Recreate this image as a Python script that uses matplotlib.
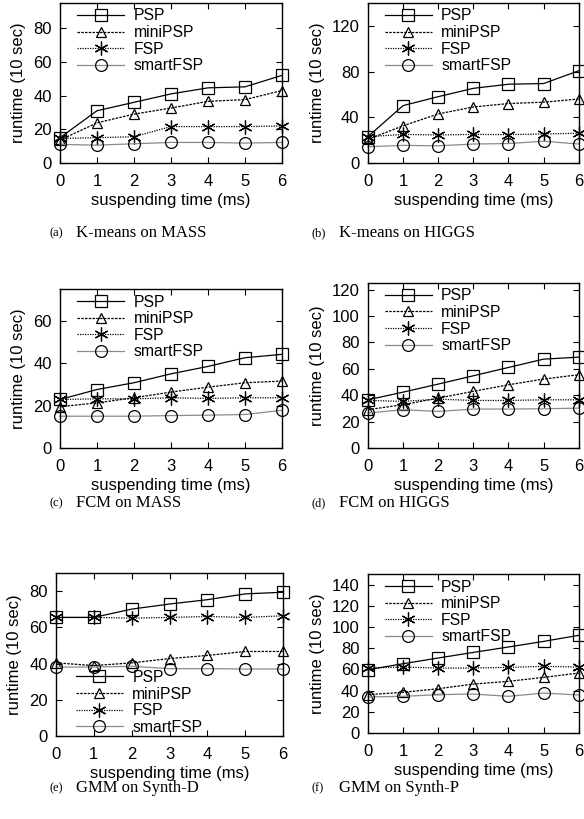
import matplotlib
matplotlib.use('Agg')
import matplotlib.pyplot as plt
import numpy as np

plt.rcParams['font.family'] = ['Liberation Sans', 'DejaVu Sans']

x = [0, 1, 2, 3, 4, 5, 6]
names = ['PSP', 'miniPSP', 'FSP', 'smartFSP']

# runtime values, order: PSP, miniPSP, FSP, smartFSP
kmeans_mass = [
    [15, 31, 36, 41, 44.6, 45.2, 52],
    [13.6, 23.8, 29, 32.6, 36.6, 37.6, 43],
    [14.6, 15, 15.6, 21.6, 21.6, 21.6, 22],
    [11, 10.6, 11.4, 12.2, 12.2, 11.8, 12.2],
]
kmeans_higgs = [
    [23, 50.2, 58, 65.3, 68.9, 69.5, 80.7],
    [20.7, 32.5, 42.9, 49, 52, 53.2, 56],
    [23, 25, 24.5, 25, 24.8, 25.4, 26],
    [14.2, 15.4, 15, 16.6, 17, 19, 16.6],
]
fcm_mass = [
    [22.9, 27.6, 30.8, 35, 38.5, 42.6, 44.2],
    [19.5, 21.3, 23.7, 26.4, 28.7, 30.8, 31.6],
    [22.9, 23.2, 23.2, 23.7, 23.4, 23.7, 23.7],
    [15, 15, 15, 15.3, 15.5, 15.8, 17.8],
]
fcm_higgs = [
    [36.5, 42.3, 48.4, 54.7, 61, 67.3, 68.8],
    [29, 32.8, 37.8, 42.9, 47.9, 52.2, 55.5],
    [36, 35.3, 37, 36, 36, 36.5, 36.5],
    [26.5, 29, 27.7, 29.5, 29.5, 29.7, 30.2],
]
gmm_synth_d = [
    [65.5, 65.5, 70.1, 72.9, 75.3, 78.5, 79.4],
    [40.4, 38.9, 40.4, 42.8, 44.5, 46.7, 46.7],
    [65.5, 65.5, 65.1, 65.5, 66, 65.5, 66.4],
    [38.1, 38.1, 38.5, 37.2, 37.2, 37, 37],
]
gmm_synth_p = [
    [59.8, 65.4, 70.8, 76.1, 81.2, 86.5, 92.2],
    [36.2, 38.4, 41.8, 46.2, 48.8, 52.5, 56.6],
    [61.3, 62.3, 61.3, 61.3, 62, 62.9, 62.3],
    [34, 34.6, 36.2, 36.8, 34.6, 37.7, 35.9],
]

captions = ['K-means on MASS', 'K-means on HIGGS', 'FCM on MASS',
            'FCM on HIGGS', 'GMM on Synth-D', 'GMM on Synth-P']
letters = ['(a)', '(b)', '(c)', '(d)', '(e)', '(f)']
panels = [kmeans_mass, kmeans_higgs, fcm_mass, fcm_higgs, gmm_synth_d, gmm_synth_p]
ylims = [95, 140, 75, 125, 90, 150]
yticks = [
    [0, 20, 40, 60, 80],
    [0, 40, 80, 120],
    [0, 20, 40, 60],
    [0, 20, 40, 60, 80, 100, 120],
    [0, 20, 40, 60, 80],
    [0, 20, 40, 60, 80, 100, 120, 140],
]
boxes = [
    [0.1027, 0.801, 0.380, 0.1954],
    [0.630, 0.801, 0.361, 0.1954],
    [0.1027, 0.453, 0.380, 0.194],
    [0.630, 0.453, 0.361, 0.2015],
    [0.0959, 0.1013, 0.389, 0.199],
    [0.630, 0.105, 0.361, 0.194],
]
cap_y = [0.7155, 0.7155, 0.386, 0.386, 0.038, 0.038]

styles = [
    dict(color='black', ls='-', marker='s', ms=8.5, lw=0.9),
    dict(color='black', ls=(0, (2, 1)), marker='^', ms=7.5, lw=0.9),
    dict(color='black', ls=(0, (1, 1)), marker=(6, 2, 0), ms=10, lw=0.9),
    dict(color='#8a8a8a', ls='-', marker='o', ms=8.5, lw=0.9),
]

fig = plt.figure(figsize=(5.84, 8.19), dpi=100)

for k in range(6):
    ax = fig.add_axes(boxes[k])
    for s in range(4):
        st = styles[s]
        ax.plot(x, panels[k][s], color=st['color'], linestyle=st['ls'],
                linewidth=st['lw'], marker=st['marker'], markersize=st['ms'],
                markerfacecolor='none', markeredgecolor='black',
                markeredgewidth=0.9, label=names[s], clip_on=False)
    ax.set_xlim(0, 6)
    ax.set_ylim(0, ylims[k])
    ax.set_xticks(x)
    ax.set_yticks(yticks[k])
    ax.tick_params(direction='in', top=True, right=True, labelsize=12,
                   length=4, width=0.8)
    ax.tick_params(axis='x', pad=8)
    ax.tick_params(axis='y', pad=6)
    for sp in ax.spines.values():
        sp.set_linewidth(1.0)
    ax.set_xlabel('suspending time (ms)', fontsize=12, labelpad=3)
    ax.set_ylabel('runtime (10 sec)', fontsize=12, labelpad=5)
    if k == 4:
        ax.legend(loc='lower left', bbox_to_anchor=(0.06, -0.03), frameon=False,
                  fontsize=11.3, handlelength=3.0, labelspacing=0.1,
                  handletextpad=0.6, borderaxespad=0)
    else:
        ax.legend(loc='upper left', bbox_to_anchor=(0.05, 1.005), frameon=False,
                  fontsize=11.3, handlelength=3.0, labelspacing=0.1,
                  handletextpad=0.6, borderaxespad=0)
    left = 49 / 584 if k % 2 == 0 else 312 / 584
    fig.text(left, cap_y[k], letters[k], fontsize=9, family='Liberation Serif',
             va='center', ha='left')
    fig.text(left + 27 / 584, cap_y[k], captions[k], fontsize=12,
             family='Liberation Serif', va='center', ha='left')

fig.savefig('out.png', dpi=100)
